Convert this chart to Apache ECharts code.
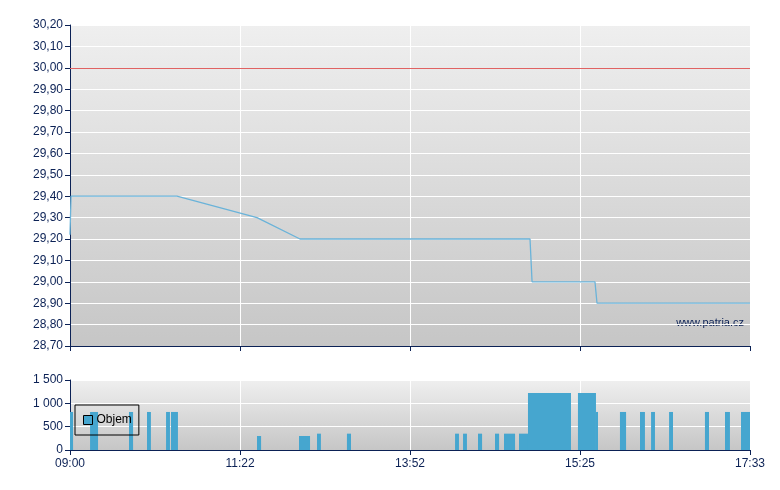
<!DOCTYPE html>
<html><head><meta charset="utf-8">
<script src="https://cdn.jsdelivr.net/npm/echarts@6/dist/echarts.min.js"></script>
<style>html,body{margin:0;padding:0;background:#fff}#c{width:780px;height:490px}</style>
</head><body><div id="c"></div>
<script>
// x axis: position in tick units (0..4), tick labels below
const tickLabels = ['09:00', '11:22', '13:52', '15:25', '17:33'];
const priceX = [0, 0.006, 0.629, 1.1, 1.353, 2.706, 2.718, 3.088, 3.1, 4];
const priceY = [29.22, 29.40, 29.40, 29.30, 29.20, 29.20, 29.00, 29.00, 28.90, 28.90];
const prevClose = 30.00;
// volume bars: start, end (tick units), volume
const volStart = [0, 0.118, 0.347, 0.453, 0.565, 0.594, 1.1, 1.347, 1.453, 1.629, 2.265, 2.312, 2.4, 2.5, 2.553, 2.641, 2.694, 2.988, 3.094, 3.235, 3.353, 3.418, 3.524, 3.735, 3.853, 3.947];
const volEnd   = [0.018, 0.165, 0.371, 0.476, 0.588, 0.635, 1.124, 1.412, 1.476, 1.653, 2.288, 2.335, 2.424, 2.524, 2.618, 2.694, 2.947, 3.094, 3.106, 3.271, 3.382, 3.441, 3.547, 3.759, 3.882, 4.0];
const volValue = [815, 815, 815, 815, 815, 815, 300, 300, 350, 350, 350, 350, 350, 350, 350, 350, 1220, 1220, 815, 815, 815, 815, 815, 815, 815, 815];
const seriesName = 'Objem';
const watermark = 'www.patria.cz';

const navy = '#0b2155';
const font = 'Liberation Sans, Arial, sans-serif';
const bg = () => new echarts.graphic.LinearGradient(0, 0, 0, 1, [{offset: 0, color: '#efefef'}, {offset: 1, color: '#c6c6c6'}]);
const chart = echarts.init(document.getElementById('c'), null, {renderer: 'canvas'});
const priceData = priceX.map((x, i) => [x, priceY[i]]);
const volData = volStart.map((s, i) => [s, volEnd[i], volValue[i]]);
const fmtPrice = v => v.toFixed(2).replace('.', ',');
const fmtVol = v => String(v).replace(/\B(?=(\d{3})+(?!\d))/g, ' ');

chart.setOption({
  animation: false,
  textStyle: {fontFamily: font},
  grid: [
    {left: 70, right: 30, top: 25, height: 321, show: true, backgroundColor: bg(), borderWidth: 0},
    {left: 70, right: 30, top: 380, height: 70, show: true, backgroundColor: bg(), borderWidth: 0}
  ],
  xAxis: [
    {type: 'value', gridIndex: 0, min: 0, max: 4, interval: 1,
     axisLine: {lineStyle: {color: navy, width: 1}}, axisTick: {show: true, length: 5, lineStyle: {color: navy}},
     axisLabel: {show: false}, splitLine: {show: true, lineStyle: {color: '#ffffff', width: 1}}},
    {type: 'value', gridIndex: 1, min: 0, max: 4, interval: 1,
     axisLine: {lineStyle: {color: navy, width: 1}}, axisTick: {show: true, length: 5, lineStyle: {color: navy}},
     axisLabel: {show: true, color: navy, fontSize: 12, fontFamily: font, margin: 8, formatter: v => tickLabels[Math.round(v)]},
     splitLine: {show: true, lineStyle: {color: '#ffffff', width: 1}}}
  ],
  yAxis: [
    {type: 'value', gridIndex: 0, min: 28.7, max: 30.2, interval: 0.1,
     axisLine: {show: true, lineStyle: {color: navy, width: 1}}, axisTick: {show: true, length: 5, lineStyle: {color: navy}},
     axisLabel: {color: navy, fontSize: 12, fontFamily: font, margin: 7, formatter: fmtPrice},
     splitLine: {show: true, lineStyle: {color: '#ffffff', width: 1}}},
    {type: 'value', gridIndex: 1, min: 0, max: 1500, interval: 500,
     axisLine: {show: true, lineStyle: {color: navy, width: 1}}, axisTick: {show: true, length: 5, lineStyle: {color: navy}},
     axisLabel: {color: navy, fontSize: 12, fontFamily: font, margin: 7, formatter: fmtVol},
     splitLine: {show: true, lineStyle: {color: '#ffffff', width: 1}}}
  ],
  legend: {
    show: true, left: 75, top: 405, orient: 'vertical',
    data: [{name: seriesName, icon: 'rect'}],
    itemWidth: 9, itemHeight: 9, itemGap: 0,
    itemStyle: {borderColor: '#000', borderWidth: 1},
    padding: [9, 7, 9, 8], borderColor: '#000', borderWidth: 1,
    textStyle: {color: '#000', fontSize: 12, fontFamily: font, padding: [0, 0, 0, -1]}
  },
  graphic: [{type: 'text', right: 36, top: 317, style: {text: watermark, fill: navy, font: '11px ' + font}}],
  series: [
    {type: 'line', xAxisIndex: 0, yAxisIndex: 0, data: priceData, symbol: 'none',
     lineStyle: {color: '#6ab3d9', width: 1.3},
     markLine: {silent: true, symbol: 'none', label: {show: false},
       lineStyle: {color: '#e06262', width: 1.2, type: 'solid'}, data: [{yAxis: prevClose}]}},
    {type: 'custom', name: seriesName, xAxisIndex: 1, yAxisIndex: 1, data: volData,
     itemStyle: {color: '#46a6cf'},
     encode: {x: [0, 1], y: 2},
     renderItem: function (params, api) {
       const a = api.coord([api.value(0), api.value(2)]);
       const b = api.coord([api.value(1), 0]);
       return {type: 'rect', shape: {x: a[0], y: a[1], width: Math.max(1, b[0] - a[0]), height: b[1] - a[1]},
               style: {fill: '#46a6cf'}};
     }}
  ]
});
</script></body></html>
